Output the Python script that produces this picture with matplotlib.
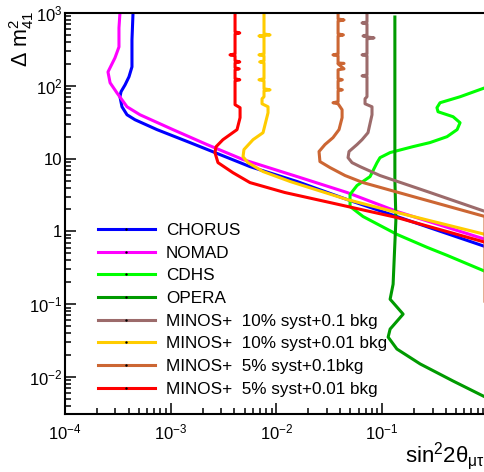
import matplotlib
matplotlib.use('Agg')
import matplotlib.pyplot as plt
from matplotlib.lines import Line2D
from matplotlib.ticker import FixedLocator, FixedFormatter, LogLocator, NullFormatter

plt.rcParams['font.family'] = ['Liberation Sans', 'DejaVu Sans']
plt.rcParams['mathtext.fontset'] = 'custom'
plt.rcParams['mathtext.rm'] = 'Liberation Sans'
plt.rcParams['mathtext.it'] = 'Liberation Sans'
plt.rcParams['mathtext.default'] = 'regular'

# --- data (sin^2 2theta, dm^2) ---
chorus_x = [4.40e-4, 4.30e-4, 4.30e-4, 4.03e-4, 3.70e-4, 3.39e-4, 3.31e-4, 3.46e-4, 3.86e-4,
            4.59e-4, 7.42e-4, 1.52e-3, 2.62e-3, 5.62e-3, 1.57e-2, 4.66e-2, 0.138, 0.94]
chorus_y = [1000, 427, 182, 133, 103, 83, 70.7, 51.5, 40,
            34.2, 25, 16.6, 12.1, 7.76, 4.84, 2.74, 1.60, 0.62]

nomad_x = [3.31e-4, 3.24e-4, 3.24e-4, 2.97e-4, 2.55e-4, 2.67e-4, 3.10e-4, 3.86e-4, 5.12e-4,
           1.05e-3, 2.20e-3, 4.83e-3, 1.57e-2, 4.66e-2, 0.138, 0.94]
nomad_y = [1000, 624, 342, 242, 155, 110, 80, 51.5, 40,
           25, 15.6, 9.7, 5.66, 3.42, 1.88, 0.78]

cdhs_x = [0.94, 0.546, 0.353, 0.330, 0.338, 0.469, 0.546, 0.512, 0.411, 0.284, 0.196, 0.119,
          0.0955, 0.0895, 0.0769, 0.0579, 0.0497, 0.0497, 0.0660, 0.138, 0.266, 0.411, 0.94]
cdhs_y = [94, 70.7, 58.5, 50, 44, 37.6, 31.1, 25, 20, 16.6, 14.6, 12.1,
          10.3, 8.8, 5.66, 4.27, 3.21, 2.20, 1.60, 0.91, 0.604, 0.469, 0.283]

opera_x = [0.132, 0.132, 0.135, 0.130, 0.127, 0.119, 0.158, 0.119, 0.114, 0.138, 0.229, 0.469, 0.94]
opera_y = [881, 5.15, 1.46, 0.413, 0.188, 0.117, 0.073, 0.0455, 0.0353, 0.0242, 0.0151, 0.0088, 0.00532]

# MINOS+ 10% syst + 0.1 bkg
m10_01_x = [7.19e-2, 7.19e-2, 6.46e-2, 7.19e-2, 7.19e-2, 6.60e-2, 7.19e-2, 8.38e-2, 7.19e-2,
            7.19e-2, 6.46e-2, 7.19e-2, 7.19e-2, 6.46e-2, 7.19e-2, 7.19e-2, 6.89e-2, 6.89e-2,
            8.02e-2, 8.02e-2, 7.35e-2, 6.46e-2, 5.79e-2, 4.86e-2, 4.76e-2, 5.19e-2, 6.18e-2,
            9.55e-2, 0.284, 0.94]
m10_01_y = [1000, 753, 730, 707, 500, 484, 469, 455, 441,
            274, 266, 258, 141, 137, 133, 70.7, 66.4, 56.6,
            51.5, 40, 22.7, 18.2, 15.6, 12.5, 10.3, 8.8, 7.76,
            5.85, 3.42, 1.88]

# MINOS+ 10% syst + 0.01 bkg
m10_001_x = [7.63e-3, 7.63e-3, 8.70e-3, 6.84e-3, 7.63e-3, 7.63e-3, 6.84e-3, 7.63e-3,
             7.63e-3, 6.95e-3, 7.63e-3, 7.63e-3, 6.84e-3, 7.63e-3, 7.63e-3, 8.70e-3, 7.63e-3,
             7.63e-3, 7.31e-3, 7.31e-3, 8.33e-3, 8.33e-3, 7.47e-3, 6.01e-3, 4.93e-3, 4.83e-3,
             5.38e-3, 7.47e-3, 1.35e-2, 4.66e-2, 0.138, 0.94]
m10_001_y = [1000, 516, 500, 484, 469, 274, 266, 258,
             220, 213, 206, 125, 121, 117, 91, 88, 85.5,
             70.7, 66.4, 56.6, 51.5, 42.6, 22.7, 18.2, 13.3, 10.6,
             8.8, 6.64, 4.84, 2.74, 1.82, 0.91]

# MINOS+ 5% syst + 0.1 bkg
m5_01_x = [3.83e-2, 3.83e-2, 4.36e-2, 3.83e-2, 3.83e-2, 4.30e-2, 3.83e-2, 3.83e-2, 3.43e-2,
           3.83e-2, 3.83e-2, 4.36e-2, 3.83e-2, 4.36e-2, 3.83e-2, 3.83e-2, 4.20e-2, 3.83e-2,
           3.83e-2, 4.20e-2, 3.83e-2, 3.83e-2, 3.43e-2, 3.83e-2, 4.18e-2, 4.18e-2, 3.91e-2,
           3.43e-2, 2.88e-2, 2.53e-2, 2.58e-2, 3.21e-2, 4.46e-2, 6.60e-2, 0.196, 0.94, 0.94]
m5_01_y = [1000, 828, 802, 777, 516, 500, 484, 274, 266,
           258, 206, 203, 200, 171, 166, 125, 121, 117,
           91, 88, 85.5, 60.4, 58.5, 56.6, 46.9, 36.5, 25,
           19.4, 15.6, 12.5, 9.1, 7.53, 5.85, 4.68, 3.01, 1.60, 0.11]

# MINOS+ 5% syst + 0.01 bkg
m5_001_x = [4.06e-3, 4.06e-3, 4.50e-3, 4.06e-3, 4.06e-3, 3.64e-3, 4.06e-3, 4.06e-3, 4.50e-3,
            4.06e-3, 4.06e-3, 4.45e-3, 4.06e-3, 4.06e-3, 4.50e-3, 4.06e-3, 4.06e-3, 4.53e-3,
            4.53e-3, 4.24e-3, 3.12e-3, 2.69e-3, 2.62e-3, 2.80e-3, 3.88e-3, 5.62e-3, 1.20e-2,
            3.21e-2, 0.138, 0.94]
m5_001_y = [1000, 550, 532, 516, 274, 266, 258, 220, 213,
            206, 177, 171, 166, 125, 121, 117, 55, 50,
            36.5, 25, 18.2, 14.6, 12.1, 8.8, 6.4, 4.68, 3.42,
            2.49, 1.55, 0.71]

curves = [
    ('CHORUS', chorus_x, chorus_y, '#0000ff'),
    ('NOMAD', nomad_x, nomad_y, '#ff00ff'),
    ('CDHS', cdhs_x, cdhs_y, '#00ff00'),
    ('OPERA', opera_x, opera_y, '#009a00'),
    ('MINOS+  10% syst+0.1 bkg', m10_01_x, m10_01_y, '#9c6b6b'),
    ('MINOS+  10% syst+0.01 bkg', m10_001_x, m10_001_y, '#ffcc00'),
    ('MINOS+  5% syst+0.1bkg', m5_01_x, m5_01_y, '#cc6633'),
    ('MINOS+  5% syst+0.01 bkg', m5_001_x, m5_001_y, '#ff0000'),
]

x_ticks = [1e-4, 1e-3, 1e-2, 1e-1]
x_labels = ['$10^{-4}$', '$10^{-3}$', '$10^{-2}$', '$10^{-1}$']
y_ticks = [1e-2, 1e-1, 1, 10, 1e2, 1e3]
y_labels = ['$10^{-2}$', '$10^{-1}$', '1', '10', '$10^{2}$', '$10^{3}$']

fig = plt.figure(figsize=(4.85, 4.72), dpi=100)
ax = fig.add_axes([65 / 485, 58 / 472, 420 / 485, 401 / 472])

handles = []
for name, xs, ys, col in curves:
    ax.plot(xs, ys, color=col, lw=2.2, solid_joinstyle='round')
    handles.append(Line2D([], [], color=col, lw=2.2, marker='.', markersize=1.5,
                          mfc='k', mec='k'))

ax.set_xscale('log')
ax.set_yscale('log')
ax.set_xlim(1e-4, 0.94)
ax.set_ylim(3.1e-3, 1e3)

ax.xaxis.set_major_locator(FixedLocator(x_ticks))
ax.xaxis.set_major_formatter(FixedFormatter(x_labels))
ax.yaxis.set_major_locator(FixedLocator(y_ticks))
ax.yaxis.set_major_formatter(FixedFormatter(y_labels))
ax.xaxis.set_minor_locator(LogLocator(base=10, subs=range(2, 10), numticks=20))
ax.yaxis.set_minor_locator(LogLocator(base=10, subs=range(2, 10), numticks=20))
ax.xaxis.set_minor_formatter(NullFormatter())
ax.yaxis.set_minor_formatter(NullFormatter())

ax.tick_params(which='major', direction='in', length=8, width=1.1, labelsize=12)
ax.tick_params(which='minor', direction='in', length=4.3, width=1.1)
ax.tick_params(axis='x', which='major', pad=6)
ax.tick_params(axis='y', which='major', pad=2)

ax.spines['right'].set_visible(False)
for s in ['left', 'bottom', 'top']:
    ax.spines[s].set_linewidth(1.5)

leg = ax.legend(handles, [c[0] for c in curves], loc='upper left',
                bbox_to_anchor=(98 / 485, 1 - 223 / 472), bbox_transform=fig.transFigure,
                frameon=False, fontsize=12.3, handlelength=3.33, handletextpad=0.64,
                labelspacing=0.45, borderpad=0, borderaxespad=0, numpoints=1)

fig.text(22 / 485, 1 - 11 / 472, r'$\Delta\ m^{2}_{41}$', rotation=90,
         ha='center', va='top', fontsize=15.5)
fig.text(405 / 485, 10 / 472, r'$sin^{2}2\theta_{\mu\tau}$', ha='left',
         va='baseline', fontsize=16)

fig.savefig('out.png', dpi=100)
